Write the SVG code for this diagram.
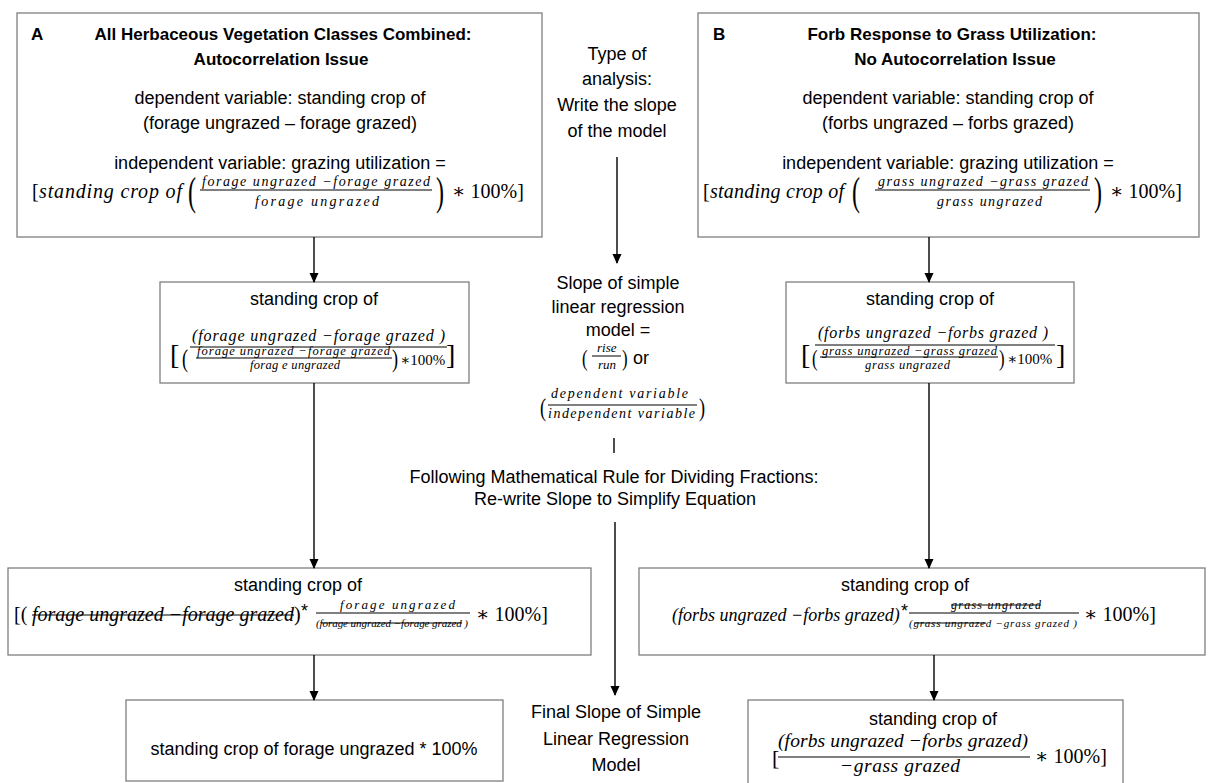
<svg xmlns="http://www.w3.org/2000/svg" width="1210" height="783" viewBox="0 0 1210 783">
<style>
.box{fill:#fff;stroke:#7f7f7f;stroke-width:1.3}
.t{font-family:"Liberation Sans",Arial,sans-serif;font-size:18px;fill:#000}
.b{font-family:"Liberation Sans",Arial,sans-serif;font-size:17px;font-weight:bold;fill:#000}
.m{font-family:"Liberation Serif","Times New Roman",serif;font-style:italic;fill:#000}
.u{font-family:"Liberation Serif","DejaVu Serif",serif;font-style:normal;fill:#000}
.c{text-anchor:middle}
.conn line{stroke:#000;stroke-width:1.4}
.bar{stroke:#000;stroke-width:1}
.st{stroke:#000;stroke-width:1}
</style>
<defs>
<marker id="ah" markerWidth="10" markerHeight="10" refX="9" refY="5" orient="auto" markerUnits="userSpaceOnUse"><path d="M0,0.5 L10,5 L0,9.5 Z" fill="#000"/></marker>
</defs>
<rect x="0" y="0" width="1210" height="783" fill="#fff"/>

<g id="boxA">
<rect class="box" x="17" y="13" width="525" height="224"/>
<text class="b" x="31" y="40">A</text>
<text class="b c" x="283" y="40">All Herbaceous Vegetation Classes Combined:</text>
<text class="b c" x="281" y="65">Autocorrelation Issue</text>
<text class="t c" x="280" y="104">dependent variable: standing crop of</text>
<text class="t c" x="280" y="129">(forage ungrazed – forage grazed)</text>
<text class="t c" x="280" y="169">independent variable: grazing utilization =</text>
<text class="u" x="32" y="198" font-size="20">[</text>
<text class="m" x="39" y="198" font-size="20" textLength="143" lengthAdjust="spacing">standing crop of</text>
<text class="u" transform="translate(188,205) scale(0.6,1)" font-size="40">(</text>
<text class="m" x="202" y="186" font-size="14" textLength="228" lengthAdjust="spacing">forage ungrazed −forage grazed</text>
<line class="bar" x1="200" y1="190" x2="432" y2="190"/>
<text class="m" x="255" y="206" font-size="14" textLength="124" lengthAdjust="spacing">forage ungrazed</text>
<text class="u" transform="translate(436,205) scale(0.6,1)" font-size="40">)</text>
<text class="u" x="452" y="198" font-size="20">∗ 100%]</text>
</g>

<g id="boxB">
<rect class="box" x="698" y="13" width="501" height="224"/>
<text class="b" x="713" y="40">B</text>
<text class="b c" x="952" y="40">Forb Response to Grass Utilization:</text>
<text class="b c" x="955" y="65">No Autocorrelation Issue</text>
<text class="t c" x="948" y="104">dependent variable: standing crop of</text>
<text class="t c" x="948" y="129">(forbs ungrazed – forbs grazed)</text>
<text class="t c" x="948" y="169">independent variable: grazing utilization =</text>
<text class="u" x="703" y="198" font-size="20">[</text>
<text class="m" x="710" y="198" font-size="20" textLength="134" lengthAdjust="spacing">standing crop of</text>
<text class="u" transform="translate(852,205) scale(0.6,1)" font-size="40">(</text>
<text class="m" x="878" y="186" font-size="14" textLength="210" lengthAdjust="spacing">grass ungrazed −grass grazed</text>
<line class="bar" x1="875" y1="190" x2="1090" y2="190"/>
<text class="m" x="937" y="206" font-size="14" textLength="105" lengthAdjust="spacing">grass ungrazed</text>
<text class="u" transform="translate(1094,205) scale(0.6,1)" font-size="40">)</text>
<text class="u" x="1110" y="198" font-size="20">∗ 100%]</text>
</g>

<g id="typeAnalysis">
<text class="t c" x="617" y="60">Type of</text>
<text class="t c" x="617" y="85">analysis:</text>
<text class="t c" x="617" y="111">Write the slope</text>
<text class="t c" x="617" y="137">of the model</text>
</g>

<g id="slopeDef">
<text class="t c" x="618" y="289">Slope of simple</text>
<text class="t c" x="618" y="313">linear regression</text>
<text class="t c" x="618" y="336">model =</text>
<text class="u" transform="translate(582,366) scale(0.7,1)" font-size="24">(</text>
<text class="m" x="597" y="352" font-size="13">rise</text>
<line class="bar" x1="592" y1="356" x2="621" y2="356"/>
<text class="m" x="598" y="369" font-size="13">run</text>
<text class="u" transform="translate(622,366) scale(0.7,1)" font-size="24">)</text>
<text class="t" x="633" y="364">or</text>
<text class="u" transform="translate(540,416) scale(0.7,1)" font-size="26">(</text>
<text class="m" x="551" y="398" font-size="14" textLength="137" lengthAdjust="spacing">dependent variable</text>
<line class="bar" x1="548" y1="405" x2="697" y2="405"/>
<text class="m" x="548" y="418" font-size="14" textLength="147" lengthAdjust="spacing">independent variable</text>
<text class="u" transform="translate(699,416) scale(0.7,1)" font-size="26">)</text>
</g>

<g id="dividingRule">
<text class="t c" x="614" y="483">Following Mathematical Rule for Dividing Fractions:</text>
<text class="t c" x="615" y="505">Re-write Slope to Simplify Equation</text>
</g>

<g id="finalSlope">
<text class="t c" x="616" y="718">Final Slope of Simple</text>
<text class="t c" x="616" y="745">Linear Regression</text>
<text class="t c" x="616" y="771">Model</text>
</g>

<g id="boxA2">
<rect class="box" x="160" y="282" width="309" height="101"/>
<text class="t c" x="314" y="305">standing crop of</text>
<text class="u" x="170" y="364" font-size="28">[</text>
<text class="m" x="192" y="341" font-size="16" textLength="253" lengthAdjust="spacing">(forage ungrazed −forage grazed )</text>
<line class="bar" x1="190" y1="347" x2="447" y2="347"/>
<text class="u" transform="translate(182,367) scale(0.7,1)" font-size="26">(</text>
<text class="m" x="197" y="355" font-size="12.5" textLength="193" lengthAdjust="spacing">forage ungrazed −forage grazed</text>
<line class="bar" x1="196" y1="358" x2="392" y2="358"/>
<text class="m" x="250" y="369" font-size="12.5" textLength="90" lengthAdjust="spacing">forag e ungrazed</text>
<text class="u" transform="translate(392,367) scale(0.7,1)" font-size="26">)</text>
<text class="u" x="400" y="365" font-size="15">∗100%</text>
<text class="u" x="446" y="364" font-size="28">]</text>
</g>

<g id="boxB2">
<rect class="box" x="786" y="282" width="288" height="101"/>
<text class="t c" x="930" y="305">standing crop of</text>
<text class="u" x="801" y="364" font-size="28">[</text>
<text class="m" x="818" y="338" font-size="16" textLength="230" lengthAdjust="spacing">(forbs ungrazed −forbs grazed )</text>
<line class="bar" x1="815" y1="345" x2="1055" y2="345"/>
<text class="u" transform="translate(812,366) scale(0.7,1)" font-size="24">(</text>
<text class="m" x="822" y="355" font-size="12.5" textLength="175" lengthAdjust="spacing">grass ungrazed −grass grazed</text>
<line class="bar" x1="820" y1="357" x2="998" y2="357"/>
<text class="m" x="865" y="369" font-size="12.5" textLength="85" lengthAdjust="spacing">grass ungrazed</text>
<text class="u" transform="translate(999,366) scale(0.7,1)" font-size="24">)</text>
<text class="u" x="1007" y="364" font-size="15">∗100%</text>
<text class="u" x="1056" y="364" font-size="28">]</text>
</g>

<g id="boxA3">
<rect class="box" x="8" y="568" width="583" height="87"/>
<text class="t c" x="298" y="591">standing crop of</text>
<text class="u" x="14" y="621" font-size="20">[(</text>
<text class="m" x="32" y="621" font-size="20" textLength="262" lengthAdjust="spacing">forage ungrazed −forage grazed</text>
<line class="st" x1="32" y1="615" x2="294" y2="615"/>
<text class="u" x="294" y="621" font-size="20">)</text>
<text class="t" x="301" y="617" font-size="14">*</text>
<text class="m" x="340" y="609" font-size="13" textLength="115" lengthAdjust="spacing">forage ungrazed</text>
<line class="bar" x1="316" y1="613" x2="470" y2="613"/>
<text class="m" x="316" y="627" font-size="11" textLength="152" lengthAdjust="spacing">(forage ungrazed −forage grazed )</text>
<line class="st" x1="321" y1="623" x2="462" y2="623"/>
<text class="u" x="476" y="621" font-size="20">∗ 100%]</text>
</g>

<g id="boxB3">
<rect class="box" x="639" y="568" width="566" height="87"/>
<text class="t c" x="905" y="591">standing crop of</text>
<text class="m" x="672" y="621" font-size="18">(forbs ungrazed −forbs grazed)</text>
<text class="t" x="901" y="617" font-size="14">*</text>
<text class="m" x="951" y="609" font-size="12" textLength="90" lengthAdjust="spacing">grass ungrazed</text>
<line class="st" x1="951" y1="605" x2="1041" y2="605"/>
<line class="bar" x1="909" y1="613" x2="1079" y2="613"/>
<text class="m" x="909" y="627" font-size="11" textLength="168" lengthAdjust="spacing">(grass ungrazed −grass grazed )</text>
<line class="st" x1="914" y1="623" x2="986" y2="623"/>
<text class="u" x="1084" y="621" font-size="20">∗ 100%]</text>
</g>

<g id="boxA4">
<rect class="box" x="126" y="700" width="377" height="81"/>
<text class="t c" x="314" y="755">standing crop of forage ungrazed * 100%</text>
</g>

<g id="boxB4">
<rect class="box" x="748" y="700" width="375" height="100"/>
<text class="t c" x="933" y="725">standing crop of</text>
<text class="u" x="772" y="765" font-size="22">[</text>
<text class="m" x="778" y="747" font-size="19.5" textLength="250" lengthAdjust="spacing">(forbs ungrazed −forbs grazed)</text>
<line class="bar" x1="778" y1="757" x2="1030" y2="757"/>
<text class="m" x="840" y="772" font-size="19.5" textLength="120" lengthAdjust="spacing">−grass grazed</text>
<text class="u" x="1035" y="763" font-size="20">∗ 100%]</text>
</g>

<g id="connectors" class="conn">
<line x1="314" y1="237" x2="314" y2="282" marker-end="url(#ah)"/>
<line x1="929" y1="237" x2="929" y2="282" marker-end="url(#ah)"/>
<line x1="617" y1="157" x2="617" y2="263" marker-end="url(#ah)"/>
<line x1="614" y1="438" x2="614" y2="453"/>
<line x1="615" y1="522" x2="615" y2="695" marker-end="url(#ah)"/>
<line x1="314" y1="383" x2="314" y2="568" marker-end="url(#ah)"/>
<line x1="929" y1="383" x2="929" y2="568" marker-end="url(#ah)"/>
<line x1="314" y1="655" x2="314" y2="700" marker-end="url(#ah)"/>
<line x1="934" y1="655" x2="934" y2="700" marker-end="url(#ah)"/>
</g>
</svg>
